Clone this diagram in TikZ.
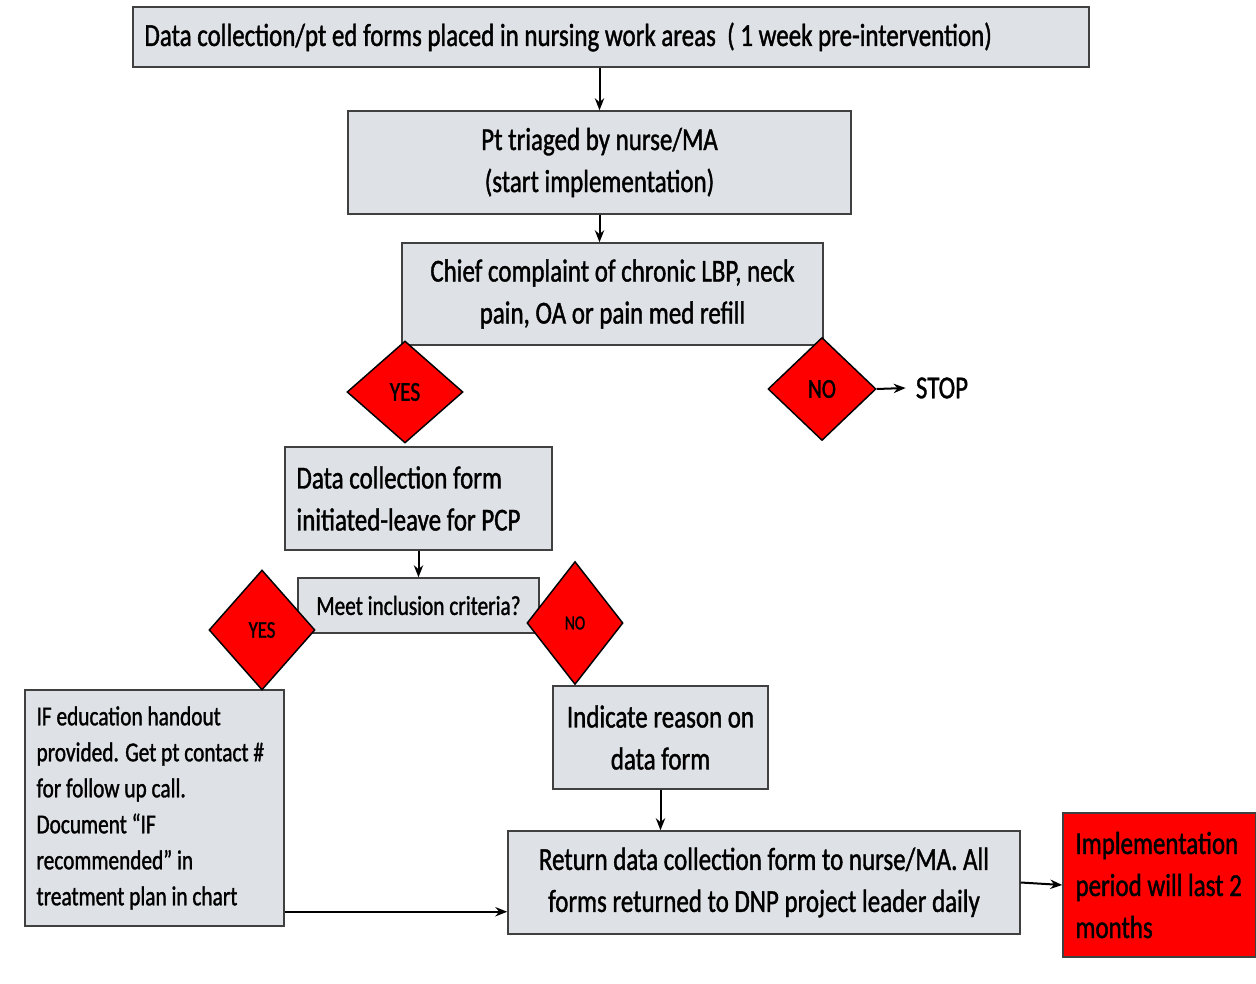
\documentclass[tikz,border=0pt]{standalone}
\usepackage{fontspec}
\setmainfont{Carlito}[FakeStretch=0.78,FakeBold=1.2]
\usetikzlibrary{shapes.geometric,arrows.meta,calc}
\definecolor{boxgray}{HTML}{DEE1E5}
\definecolor{boxline}{HTML}{404040}
\tikzset{
 bigfont/.style={font=\fontsize{24}{31.5}\selectfont},
 smallfont/.style={font=\fontsize{20.5}{27}\selectfont},
 box/.style={draw=boxline, line width=1.1pt, fill=boxgray, inner sep=0pt, bigfont},
 lefttext/.style={anchor=west, inner xsep=9pt, inner ysep=0pt, align=left},
 dia/.style={diamond, draw=black, line width=1.1pt, fill=red, inner sep=0pt, smallfont},
 arr/.style={-{Stealth[length=9pt,width=7pt]}, line width=1.5pt}
}
\begin{document}
\begin{tikzpicture}[x=0.75pt,y=-0.75pt]
\useasboundingbox (0,0) rectangle (1256,984);
% boxes
\node[box, minimum width=956*0.75pt, minimum height=60*0.75pt] (top) at (611,37) {};
\node[lefttext, bigfont] (toptext) at (top.west) {Data collection/pt ed forms placed in nursing work areas \ ( 1 week pre-intervention)};
\node[box, minimum width=503*0.75pt, minimum height=103*0.75pt, align=center] (pt) at (599.5,162.5) {Pt triaged by nurse/MA\\(start implementation)};
\node[box, minimum width=421*0.75pt, minimum height=102*0.75pt, align=center] (chief) at (612.5,294) {Chief complaint of chronic LBP, neck\\pain, OA or pain med refill};
\node[box, minimum width=267*0.75pt, minimum height=103*0.75pt] (dcf) at (418.5,498.5) {};
\node[lefttext, bigfont] (dcftext) at (dcf.west) {Data collection form\\initiated-leave for PCP};
\node[box, smallfont, minimum width=241*0.75pt, minimum height=55*0.75pt, align=center] (meet) at (418.5,605.5) {Meet inclusion criteria?};
\node[box, minimum width=259*0.75pt, minimum height=236*0.75pt] (ifbox) at (154.5,808) {};
\node[lefttext, smallfont] (iftext) at (ifbox.west) {IF education handout\\provided. Get pt contact \#\\for follow up call.\\Document “IF\\recommended” in\\treatment plan in chart};
\node[box, minimum width=215*0.75pt, minimum height=103*0.75pt, align=center] (ind) at (660.5,737.5) {Indicate reason on\\data form};
\node[box, minimum width=512*0.75pt, minimum height=103*0.75pt, align=center] (ret) at (764,882.5) {Return data collection form to nurse/MA. All\\forms returned to DNP project leader daily};
\node[box, fill=red, minimum width=193*0.75pt, minimum height=144*0.75pt] (impl) at (1159.5,885) {};
\node[lefttext, bigfont, inner xsep=9.75pt] (impltext) at (impl.west) {Implementation\\period will last 2\\months};
\node[bigfont, inner ysep=0pt, inner xsep=7.5pt] (stop) at (942,388) {STOP};
% connectors
\draw[arr] (pt.north |- top.south) -- (pt.north);
\draw[arr] (pt.south) -- (pt.south |- chief.north);
\draw[arr] (dcf.south) -- (meet.north);
\draw[arr] (ind.south) -- (ind.south |- ret.north);
\coordinate (ifout) at ($(ifbox.south east)+(0,-15)$);
\draw[arr] (ifout) -- (ifout -| ret.west);
\draw[arr] (ret.east) -- (impl.west);
% diamonds
\node[dia, minimum width=116*0.75pt, minimum height=102*0.75pt] (y1) at (405,392) {YES};
\node[dia, minimum width=108*0.75pt, minimum height=103*0.75pt] (n1) at (822,389) {NO};
\node[dia, minimum width=106*0.75pt, minimum height=120*0.75pt, font=\fontsize{18}{22}\selectfont] (y2) at (262,630) {YES};
\node[dia, minimum width=96*0.75pt, minimum height=123*0.75pt, font=\fontsize{15}{19}\selectfont] (n2) at (575,623) {NO};
\draw[arr] (n1.east) -- (stop.west);
\end{tikzpicture}
\end{document}
